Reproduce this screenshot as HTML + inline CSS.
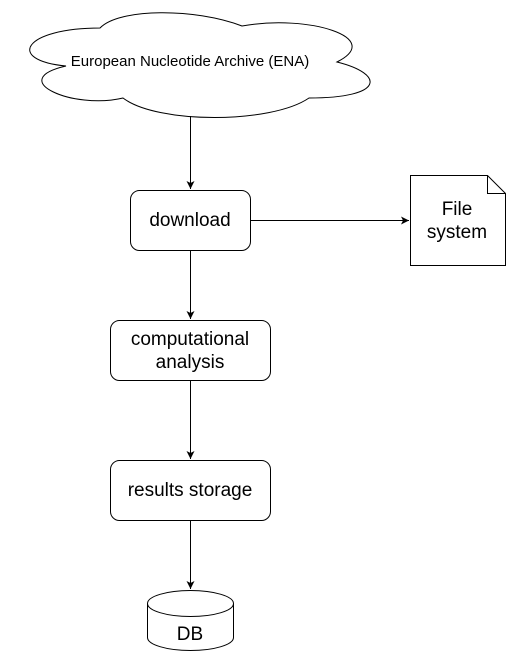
<!DOCTYPE html>
<html><head><style>body{margin:0;background:#fff}svg{display:block}</style></head><body>
<svg width="506" height="651" viewBox="0 0 506 651" xmlns="http://www.w3.org/2000/svg" font-family="Liberation Sans, sans-serif">
<defs><marker id="a" markerWidth="10" markerHeight="10" refX="8" refY="4" orient="auto" markerUnits="userSpaceOnUse"><path d="M0,0 L8,4 L0,8 L2,4 Z" fill="#000"/></marker></defs>
<g fill="#fff" stroke="#000" stroke-width="1">
<path d="M100,28 C24,28 5,60 66,66 C5,80 73,110 123,98 C157,124 271,124 309,98 C385,98 385,74 337,62 C385,38 309,14 242,26 C195,8 119,8 100,28 Z"/>
<rect x="130.5" y="190.5" width="120" height="60" rx="9"/>
<rect x="110.5" y="320.5" width="160" height="60" rx="9"/>
<rect x="110.5" y="460.5" width="160" height="60" rx="9"/>
<path d="M410.5,175.5 H487.5 L505.5,193.5 V265.5 H410.5 Z"/>
<path d="M487.5,175.5 V193.5 H505.5" fill="none"/>
<path d="M147.5,603.5 V637.5 A43,13 0 0 0 233.5,637.5 V603.5 A43,13 0 0 0 147.5,603.5 Z"/>
<path d="M147.5,603.5 A43,13 0 0 0 233.5,603.5" fill="none"/>
</g>
<g stroke="#000" stroke-width="1" fill="none" marker-end="url(#a)">
<line x1="190.5" y1="116" x2="190.5" y2="189"/>
<line x1="251" y1="220.5" x2="409" y2="220.5"/>
<line x1="190.5" y1="251" x2="190.5" y2="319"/>
<line x1="190.5" y1="381" x2="190.5" y2="459"/>
<line x1="190.5" y1="521" x2="190.5" y2="589"/>
</g>
<g text-anchor="middle" fill="#000">
<text x="190" y="66" font-size="15">European Nucleotide Archive (ENA)</text>
<text x="190" y="226" font-size="19">download</text>
<text x="190" y="345" font-size="19">computational</text>
<text x="190" y="368" font-size="19">analysis</text>
<text x="190" y="496" font-size="19">results storage</text>
<text x="457" y="215" font-size="19">File</text>
<text x="457" y="238" font-size="19">system</text>
<text x="190" y="640" font-size="19">DB</text>
</g>
</svg>
</body></html>
